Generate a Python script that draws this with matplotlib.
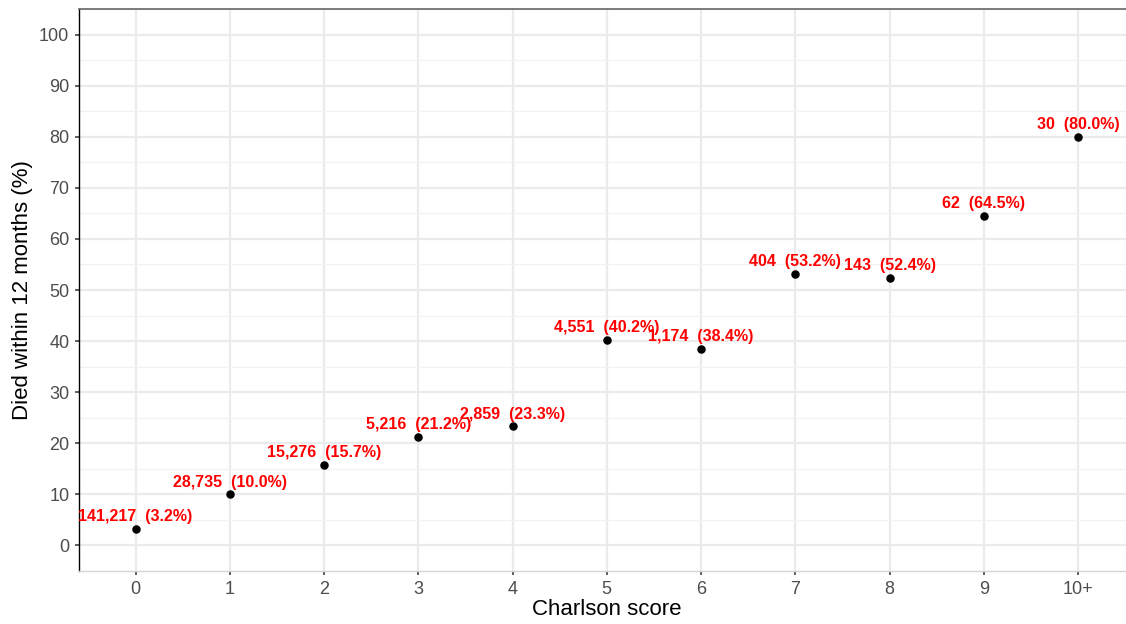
#!/usr/bin/env python3
"""Died within 12 months by Charlson score."""

import matplotlib
matplotlib.use("Agg")
import matplotlib.pyplot as plt
from matplotlib.ticker import MultipleLocator

plt.rcParams["font.family"] = ["Liberation Sans", "DejaVu Sans"]

scores = ["0", "1", "2", "3", "4", "5", "6", "7", "8", "9", "10+"]
died_pct = [3.2, 10.0, 15.7, 21.2, 23.3, 40.2, 38.4, 53.2, 52.4, 64.5, 80.0]
n_patients = [141217, 28735, 15276, 5216, 2859, 4551, 1174, 404, 143, 62, 30]


def main() -> int:
    fig = plt.figure(figsize=(11.26, 6.24), dpi=100)
    ax = fig.add_axes((79 / 1126, 53 / 624, 1055.6 / 1126, 562 / 624))

    x = list(range(len(scores)))
    ax.set_xlim(-0.6, len(scores) - 1 + 0.6)
    ax.set_ylim(-5, 105)

    # grid like ggplot theme_bw
    ax.yaxis.set_major_locator(MultipleLocator(10))
    ax.yaxis.set_minor_locator(MultipleLocator(5))
    ax.set_xticks(x)
    ax.set_xticklabels(scores)
    ax.grid(True, which="major", color="#EBEBEB", linewidth=1.6, zorder=0)
    ax.grid(True, which="minor", axis="y", color="#F2F2F2", linewidth=0.9, zorder=0)
    ax.set_axisbelow(True)

    ax.scatter(x, died_pct, s=26, color="black", zorder=3)
    for xi, yi, n in zip(x, died_pct, n_patients):
        ax.annotate(
            f"{n:,}  ({yi:.1f}%)",
            (xi, yi),
            xytext=(0, 3.5),
            textcoords="offset points",
            ha="center",
            va="bottom",
            color="red",
            fontweight="bold",
            fontsize=11.5,
            zorder=4,
        )

    ax.spines["right"].set_visible(False)
    ax.spines["top"].set_color("#666666")
    ax.spines["top"].set_linewidth(1.2)
    ax.spines["left"].set_color("black")
    ax.spines["left"].set_linewidth(1.0)
    ax.spines["bottom"].set_color("#D6D6D6")
    ax.spines["bottom"].set_linewidth(1.0)

    ax.tick_params(axis="both", which="major", length=3, width=1.1, color="#333333",
                   labelcolor="#4D4D4D", labelsize=13, pad=4)
    ax.tick_params(axis="y", which="minor", length=0)

    ax.set_xlabel("Charlson score", fontsize=16, labelpad=1)
    ax.set_ylabel("Died within 12 months (%)", fontsize=16, labelpad=4)

    fig.savefig("out.png", dpi=100)
    plt.close(fig)
    return 0


if __name__ == "__main__":
    raise SystemExit(main())
